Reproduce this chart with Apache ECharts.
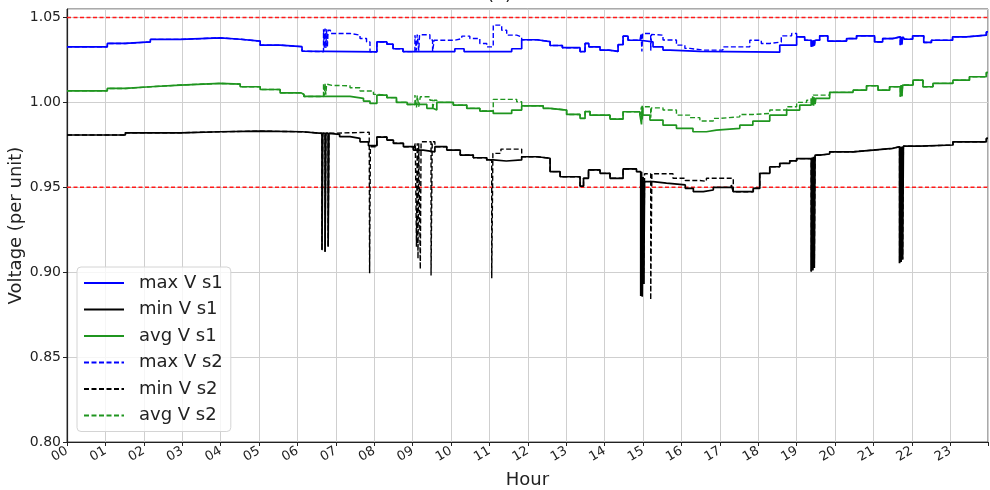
<!DOCTYPE html>
<html lang="en" style="height: 100%">
<head>
  <meta charset="UTF-8">
  <title>Voltage per unit over the day</title>
  <script src="https://cdn.jsdelivr.net/npm/echarts@6/dist/echarts.min.js"></script>
</head>
<body style="height: 100%; margin: 0; background: #fff;">
  <div id="main" style="width: 990px; height: 490px;"></div>

  <script>
  // [hour, voltage p.u.] breakpoints, value holds until the next point
  const maxS1 = [
    [0, 1.0327], [1.05, 1.0347], [1.52, 1.0356], [2.17, 1.0371], [2.95, 1.0380], [3.99, 1.0372],
    [4.51, 1.0361], [5.03, 1.0337], [5.55, 1.0328], [6.12, 1.0302], [6.17, 1.0298],
    [8.07, 1.0356], [8.33, 1.0343], [8.49, 1.0316], [8.75, 1.0299],
    [10.1, 1.0316], [10.34, 1.0299], [11.58, 1.0316], [11.84, 1.0369], [12.24, 1.0358],
    [12.58, 1.0335], [12.9, 1.0322], [13.36, 1.0299], [13.49, 1.0347], [13.59, 1.0327],
    [13.88, 1.0308], [14.11, 1.0300], [14.35, 1.0340], [14.48, 1.0390], [14.61, 1.0366],
    [14.92, 1.0356], [15.26, 1.0327], [15.52, 1.0308], [15.7, 1.0300], [16.48, 1.0296],
    [18.56, 1.0337], [19.0, 1.0386], [19.21, 1.0366],
    [19.38, 1.0327], [19.40, 1.0366], [19.42, 1.0330], [19.44, 1.0366], [19.46, 1.0335], [19.48, 1.0366],
    [19.6, 1.0392], [19.81, 1.0361], [20.3, 1.0376], [20.56, 1.0392], [21.03, 1.0356],
    [21.24, 1.0376], [21.5, 1.0386],
    [21.70, 1.0337], [21.72, 1.0386], [21.74, 1.0340], [21.76, 1.0386],
    [21.81, 1.0372], [22.02, 1.0392], [22.31, 1.0353], [22.51, 1.0366], [23.06, 1.0386],
    [23.42, 1.0396], [23.94, 1.0415], [23.983, 1.0415]
  ];

  const minS1 = [
    [0, 0.9808], [1.52, 0.9821], [2.95, 0.9827], [3.99, 0.9831], [5.03, 0.9827], [6.12, 0.9824], [6.17, 0.9818],
    [6.64, 0.9130], [6.66, 0.9818], [6.72, 0.9120], [6.74, 0.9818], [6.80, 0.9150], [6.82, 0.9818],
    [6.85, 0.9812], [7.1, 0.9798], [7.37, 0.9788], [7.63, 0.9768], [7.85, 0.9745], [8.07, 0.9796],
    [8.33, 0.9778], [8.5, 0.9759], [8.76, 0.9739], [9.02, 0.9719], [9.28, 0.9709], [9.58, 0.9739],
    [9.89, 0.9719], [10.24, 0.9690], [10.58, 0.9674], [10.93, 0.9661], [11.1, 0.9655], [11.44, 0.9661],
    [11.84, 0.9680], [12.24, 0.9671], [12.58, 0.9592], [12.84, 0.9562], [13.36, 0.9507], [13.45, 0.9553],
    [13.58, 0.9602], [13.88, 0.9582], [14.14, 0.9553], [14.48, 0.9608], [14.83, 0.9592],
    [14.94, 0.8860], [14.96, 0.9592], [14.98, 0.8857], [15.0, 0.9560], [15.02, 0.8930], [15.04, 0.9533],
    [15.26, 0.9524], [15.61, 0.9514], [16.1, 0.9494], [16.31, 0.9474], [16.57, 0.9484], [16.83, 0.9500],
    [17.3, 0.9514], [17.35, 0.9474], [17.87, 0.9494], [18.04, 0.9582], [18.3, 0.9621], [18.56, 0.9641],
    [18.82, 0.9656], [19.0, 0.9669],
    [19.38, 0.9004], [19.40, 0.9675], [19.42, 0.9010], [19.44, 0.9680], [19.46, 0.9025], [19.48, 0.9690],
    [19.6, 0.9696], [19.86, 0.9709], [20.47, 0.9719], [20.99, 0.9729], [21.5, 0.9739],
    [21.68, 0.9053], [21.70, 0.9739], [21.72, 0.9060], [21.74, 0.9739], [21.76, 0.9075], [21.78, 0.9742],
    [22.2, 0.9749], [23.07, 0.9768], [23.94, 0.9788], [23.983, 0.9788]
  ];

  const avgS1 = [
    [0, 1.0068], [1.05, 1.0082], [1.52, 1.0092], [2.17, 1.0102], [2.95, 1.0112], [3.99, 1.0108],
    [4.51, 1.0092], [5.03, 1.0076], [5.55, 1.0056], [6.1, 1.0047], [6.17, 1.0035], [7.37, 1.0024],
    [7.72, 1.0008], [7.89, 0.9994], [8.07, 1.0043], [8.33, 1.0028], [8.58, 1.0000], [8.86, 0.9988],
    [9.37, 0.9965], [9.53, 0.9955], [9.63, 1.0000], [10.06, 0.9984], [10.41, 0.9965], [10.75, 0.9949],
    [11.1, 0.9935], [11.58, 0.9955], [11.84, 0.9980], [12.4, 0.9965], [12.58, 0.9955], [13.01, 0.9929],
    [13.36, 0.9906], [13.49, 0.9946], [13.62, 0.9925], [14.14, 0.9902], [14.48, 0.9945], [14.92, 0.9925],
    [14.96, 0.9870], [14.98, 0.9980], [15.0, 0.9925], [15.18, 0.9896], [15.52, 0.9866], [15.87, 0.9847],
    [16.3, 0.9827], [16.65, 0.9837], [16.91, 0.9847], [17.52, 0.9866], [17.86, 0.9890], [18.3, 0.9925],
    [18.74, 0.9955], [19.08, 0.9984],
    [19.38, 1.0024], [19.40, 0.9984], [19.42, 1.0035], [19.44, 0.9980], [19.46, 1.0030], [19.48, 0.9990],
    [19.5, 1.0024], [19.86, 1.0059], [20.47, 1.0072], [20.82, 1.0098], [21.12, 1.0072], [21.42, 1.0092],
    [21.70, 1.0033], [21.72, 1.0102], [21.74, 1.0036], [21.76, 1.0102],
    [22.03, 1.0131], [22.29, 1.0092], [22.55, 1.0112], [23.07, 1.0131], [23.5, 1.0151], [23.94, 1.0176],
    [23.983, 1.0176]
  ];

  // s2 only differs from s1 inside these windows
  const maxS2Patches = [
    [[6.68, 1.0431], [6.70, 1.0318], [6.72, 1.0435], [6.74, 1.0320], [6.76, 1.0431], [6.78, 1.0325],
     [6.80, 1.0425], [6.86, 1.0406], [7.37, 1.0396], [7.63, 1.0376], [7.80, 1.0356], [7.89, 1.0298],
     [8.07, 1.0356]],
    [[9.06, 1.0396], [9.10, 1.0305], [9.12, 1.0400], [9.16, 1.0305], [9.18, 1.0398], [9.45, 1.0367],
     [9.52, 1.0300], [9.56, 1.0366], [10.1, 1.0376], [10.28, 1.0390], [10.49, 1.0376], [10.75, 1.0347],
     [10.93, 1.0327], [11.1, 1.0455], [11.32, 1.0425], [11.45, 1.0396], [11.71, 1.0386], [11.84, 1.0369]],
    [[14.95, 1.0406], [14.97, 1.0300], [14.99, 1.0406], [15.2, 1.0305], [15.22, 1.0400], [15.26, 1.0396],
     [15.52, 1.0367], [15.87, 1.0337], [16.09, 1.0318], [16.22, 1.0308], [16.56, 1.0308], [17.08, 1.0327],
     [17.78, 1.0366], [18.08, 1.0347], [18.3, 1.0356], [18.6, 1.0392], [18.87, 1.0406], [19.0, 1.0386]]
  ];

  const minS2Patches = [
    [[6.85, 0.9824], [7.87, 0.9818], [7.88, 0.8994], [7.90, 0.9739], [8.07, 0.9796]],
    [[9.07, 0.9760], [9.10, 0.9150], [9.12, 0.9760], [9.14, 0.9080], [9.16, 0.9760], [9.20, 0.9018],
     [9.22, 0.9768], [9.48, 0.8980], [9.51, 0.9768], [9.58, 0.9739]],
    [[11.06, 0.8965], [11.09, 0.9700], [11.3, 0.9725], [11.84, 0.9680]],
    [[15.04, 0.9580], [15.2, 0.8837], [15.23, 0.9580], [15.78, 0.9553], [16.1, 0.9540], [16.48, 0.9535],
     [16.65, 0.9553], [17.35, 0.9474]]
  ];

  const avgS2Patches = [
    [[6.68, 1.0112], [6.70, 1.0040], [6.72, 1.0110], [6.74, 1.0045], [6.76, 1.0108], [6.80, 1.0100],
     [6.9, 1.0098], [7.37, 1.0086], [7.63, 1.0067], [7.98, 1.0047], [8.07, 1.0043]],
    [[9.06, 1.0043], [9.10, 0.9970], [9.12, 1.0040], [9.16, 0.9975], [9.2, 1.0033], [9.45, 1.0013],
     [9.52, 0.9955], [9.56, 1.0013], [9.63, 1.0000]],
    [[11.1, 1.0018], [11.71, 1.0004], [11.84, 0.9980]],
    [[14.96, 0.9974], [14.98, 0.9900], [15.0, 0.9974], [15.2, 0.9910], [15.22, 0.9968], [15.52, 0.9955],
     [15.87, 0.9925], [16.22, 0.9910], [16.48, 0.9890], [16.83, 0.9906], [17.0, 0.9915], [17.52, 0.9929],
     [17.86, 0.9935], [18.3, 0.9955], [18.74, 0.9974], [19.0, 1.0000], [19.26, 1.0013], [19.43, 1.0043],
     [19.86, 1.0059]]
  ];

  const limits = [1.05, 0.95];
  const dayStart = 0, dayEnd = 23.983;
  const seriesNames = ['max V s1', 'min V s1', 'avg V s1', 'max V s2', 'min V s2', 'avg V s2'];
  const hourLabels = ['00', '01', '02', '03', '04', '05', '06', '07', '08', '09', '10', '11',
                      '12', '13', '14', '15', '16', '17', '18', '19', '20', '21', '22', '23'];

  function merge(base, patches) {
    let out = base.slice();
    patches.forEach(function (p) {
      const a = p[0][0], b = p[p.length - 1][0];
      out = out.filter(q => q[0] < a || q[0] > b).concat(p);
    });
    return out.sort((u, v) => u[0] - v[0]);
  }

  const maxS2 = merge(maxS1, maxS2Patches);
  const minS2 = merge(minS1, minS2Patches);
  const avgS2 = merge(avgS1, avgS2Patches);

  const font = 'DejaVu Sans';
  const dash = [5, 2.5];

  function line(name, data, color, dashed) {
    return {
      name: name,
      type: 'line',
      step: 'end',
      data: data,
      symbol: 'none',
      silent: true,
      lineStyle: { color: color, width: dashed ? 1.4 : 1.7, type: dashed ? dash : 'solid' },
      itemStyle: { color: color }
    };
  }

  const chart = echarts.init(document.getElementById('main'));

  // red dashed voltage limits
  const series = limits.map(v => ({
    name: 'limit ' + v,
    type: 'line',
    data: [[dayStart, v], [dayEnd, v]],
    symbol: 'none',
    silent: true,
    z: 3,
    lineStyle: { color: '#ff1a1a', width: 1.5, type: [4, 2.5], opacity: 1 },
    itemStyle: { color: '#ff1a1a' }
  })).concat([
    line(seriesNames[0], maxS1, '#0000ff', false),
    line(seriesNames[1], minS1, '#000000', false),
    line(seriesNames[2], avgS1, '#1f951f', false),
    line(seriesNames[3], maxS2, '#0000ff', true),
    line(seriesNames[4], minS2, '#000000', true),
    line(seriesNames[5], avgS2, '#1f951f', true)
  ]);

  chart.setOption({
    animation: false,
    backgroundColor: '#ffffff',
    title: {
      text: '(a)',
      left: 482,
      top: -19,
      textStyle: { fontFamily: font, fontSize: 18, fontWeight: 'normal', color: '#222' }
    },
    grid: {
      left: 67, right: 2, top: 9, bottom: 48,
      containLabel: false,
      outerBoundsMode: 'none',
      show: true, borderColor: '#555', borderWidth: 1
    },
    legend: {
      orient: 'vertical',
      left: 77,
      top: 267,
      itemWidth: 40,
      itemHeight: 14,
      itemGap: 6.5,
      padding: [6, 8, 6, 6],
      backgroundColor: 'rgba(255,255,255,0.8)',
      borderColor: '#d4d4d4',
      borderWidth: 1,
      borderRadius: 4,
      itemStyle: { color: 'rgba(0,0,0,0)', borderColor: 'rgba(0,0,0,0)', borderWidth: 0 },
      textStyle: { fontFamily: font, fontSize: 18, color: '#222', lineHeight: 20, padding: [0, 0, 0, 10] },
      data: seriesNames
    },
    xAxis: {
      type: 'value',
      min: 0,
      max: dayEnd,
      interval: 1,
      name: 'Hour',
      nameLocation: 'middle',
      nameGap: 29,
      nameMoveOverlap: false,
      nameTextStyle: { fontFamily: font, fontSize: 18, color: '#222' },
      axisLine: { lineStyle: { color: '#222', width: 1.2 } },
      axisTick: { show: true, length: 4, lineStyle: { color: '#222' } },
      axisLabel: {
        rotate: 30,
        margin: 8,
        fontFamily: font,
        fontSize: 13,
        color: '#222',
        formatter: function (v) {
          return Number.isInteger(v) && v < 24 ? hourLabels[v] : '';
        }
      },
      splitLine: { show: true, lineStyle: { color: '#cfcfcf', width: 1 } }
    },
    yAxis: {
      type: 'value',
      min: 0.80,
      max: 1.055,
      interval: 0.05,
      name: 'Voltage (per unit)',
      nameLocation: 'middle',
      nameGap: 42,
      nameMoveOverlap: false,
      nameTextStyle: { fontFamily: font, fontSize: 18, color: '#222' },
      axisLine: { show: true, lineStyle: { color: '#222', width: 1.2 } },
      axisTick: { show: true, length: 4, lineStyle: { color: '#222' } },
      axisLabel: {
        margin: 6,
        fontFamily: font,
        fontSize: 14,
        color: '#222',
        formatter: v => v.toFixed(2)
      },
      splitLine: { show: true, lineStyle: { color: '#cfcfcf', width: 1 } }
    },
    series: series
  });

  window.addEventListener('resize', function () {
    chart.resize();
  });
  </script>
</body>
</html>
